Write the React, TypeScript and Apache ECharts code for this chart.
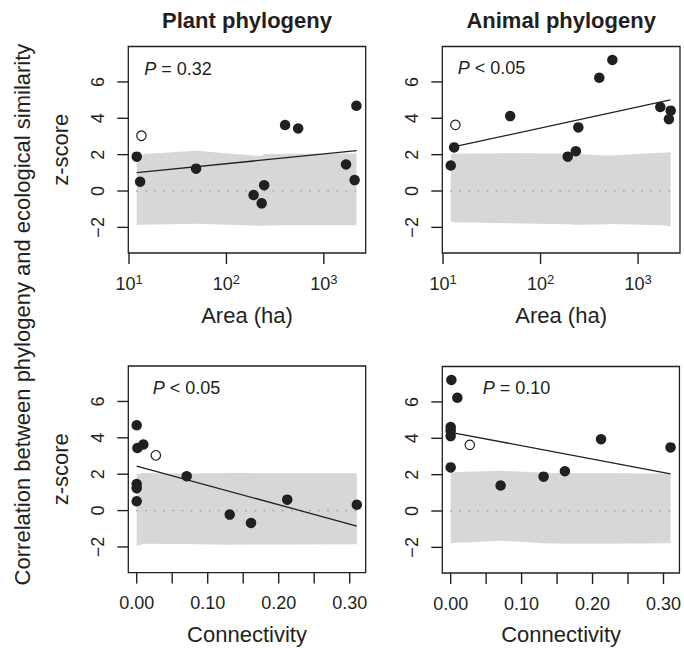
import React, { useEffect, useRef } from "react";
import * as echarts from "echarts";

// ---- data ----
// sites A..K : area (ha), connectivity, plant z-score, animal z-score
const SITE_AREA = [12.0, 13.0, 48.8, 190, 230, 244, 400, 545, 1690, 2160, 2070];
const SITE_CONNECTIVITY = [0.0704, 0.0, 0.0, 0.131, 0.161, 0.31, 0.0094, 0.001, 0.0, 0.0, 0.212];
const PLANT_Z = [1.89, 0.51, 1.23, -0.22, -0.68, 0.32, 3.63, 3.44, 1.46, 4.69, 0.6];
const ANIMAL_Z = [1.4, 2.4, 4.12, 1.89, 2.19, 3.5, 6.23, 7.21, 4.62, 4.42, 3.95];
// excluded site (open circle)
const OPEN_AREA = [13.4];
const OPEN_CONNECTIVITY = [0.027];
const OPEN_PLANT_Z = [3.04];
const OPEN_ANIMAL_Z = [3.64];

// regression lines (end points)
const PLANT_AREA_FIT_X = [12.0, 2170];
const PLANT_AREA_FIT_Z = [1.01, 2.22];
const ANIMAL_AREA_FIT_X = [13.1, 2140];
const ANIMAL_AREA_FIT_Z = [2.44, 5.01];
const CONN_FIT_X = [0, 0.31];
const PLANT_CONN_FIT_Z = [2.45, -0.85];
const ANIMAL_CONN_FIT_Z = [4.33, 2.04];

// null-model envelopes
const AREA_BAND_X = [12.0, 13.0, 48.8, 190, 230, 244, 400, 545, 1690, 2070, 2160];
const PLANT_AREA_BAND_UPPER = [2.0, 2.02, 2.22, 1.96, 1.93, 2.04, 2.05, 2.05, 2.06, 2.07, 2.07];
const PLANT_AREA_BAND_LOWER = [-1.87, -1.86, -1.8, -1.9, -1.92, -1.9, -1.89, -1.89, -1.88, -1.88, -1.88];
const ANIMAL_AREA_BAND_UPPER = [2.02, 2.05, 2.08, 2.06, 2.05, 2.04, 1.97, 1.96, 2.1, 2.12, 2.13];
const ANIMAL_AREA_BAND_LOWER = [-1.68, -1.72, -1.78, -1.83, -1.85, -1.85, -1.84, -1.82, -1.88, -1.92, -1.93];
const CONN_BAND_X = [0, 0.0094, 0.0704, 0.131, 0.161, 0.212, 0.31];
const PLANT_CONN_BAND_UPPER = [2.03, 2.06, 2.04, 2.07, 2.06, 2.05, 2.05];
const PLANT_CONN_BAND_LOWER = [-1.95, -1.83, -1.84, -1.88, -1.87, -1.86, -1.85];
const ANIMAL_CONN_BAND_UPPER = [2.12, 2.14, 2.22, 2.1, 2.08, 2.08, 2.07];
const ANIMAL_CONN_BAND_LOWER = [-1.78, -1.74, -1.63, -1.78, -1.8, -1.8, -1.78];

// ticks and texts
const Z_TICKS = [-2, 0, 2, 4, 6];
const AREA_TICKS = [10, 100, 1000];
const CONN_TICKS = [0, 0.05, 0.1, 0.15, 0.2, 0.25, 0.3];
const CONN_LABELS = [0, 0.1, 0.2, 0.3];
const P_TEXTS = ["= 0.32", "< 0.05", "< 0.05", "= 0.10"];
const COLUMN_TITLES = ["Plant phylogeny", "Animal phylogeny"];
const X_TITLES = ["Area (ha)", "Connectivity"];
const Y_TITLE = "z-score";
const OUTER_Y_TITLE = "Correlation between phylogeny and ecological similarity";

// ---- styling ----
const FONT = "'Liberation Sans', Arial, Helvetica, sans-serif";
const INK = "#231f20";
const BAND = "#d6d7d9";
const Y_MIN = -3.41;
const Y_MAX = 7.95;
const AREA_MIN = 9.83;
const AREA_MAX = 2690;
const CONN_MIN = -0.0118;
const CONN_MAX = 0.3225;
const TICK_LEN = 11;

const zip = (xs: number[], ys: number[]) => xs.map((x, i) => [x, ys[i]]);

const GRIDS = [
  { left: 128.3, top: 46.5, width: 237.4, height: 206.5 },
  { left: 442.3, top: 46.5, width: 237.7, height: 206.5 },
  { left: 128.3, top: 366, width: 237.4, height: 206.6 },
  { left: 442.3, top: 366.5, width: 237.7, height: 206.5 },
];

const PANELS = [
  {
    x: SITE_AREA, y: PLANT_Z, ox: OPEN_AREA, oy: OPEN_PLANT_Z,
    fx: PLANT_AREA_FIT_X, fy: PLANT_AREA_FIT_Z,
    bx: AREA_BAND_X, bu: PLANT_AREA_BAND_UPPER, bl: PLANT_AREA_BAND_LOWER,
    xTicks: AREA_TICKS, xMin: AREA_MIN,
  },
  {
    x: SITE_AREA, y: ANIMAL_Z, ox: OPEN_AREA, oy: OPEN_ANIMAL_Z,
    fx: ANIMAL_AREA_FIT_X, fy: ANIMAL_AREA_FIT_Z,
    bx: AREA_BAND_X, bu: ANIMAL_AREA_BAND_UPPER, bl: ANIMAL_AREA_BAND_LOWER,
    xTicks: AREA_TICKS, xMin: AREA_MIN,
  },
  {
    x: SITE_CONNECTIVITY, y: PLANT_Z, ox: OPEN_CONNECTIVITY, oy: OPEN_PLANT_Z,
    fx: CONN_FIT_X, fy: PLANT_CONN_FIT_Z,
    bx: CONN_BAND_X, bu: PLANT_CONN_BAND_UPPER, bl: PLANT_CONN_BAND_LOWER,
    xTicks: CONN_TICKS, xMin: CONN_MIN,
  },
  {
    x: SITE_CONNECTIVITY, y: ANIMAL_Z, ox: OPEN_CONNECTIVITY, oy: OPEN_ANIMAL_Z,
    fx: CONN_FIT_X, fy: ANIMAL_CONN_FIT_Z,
    bx: CONN_BAND_X, bu: ANIMAL_CONN_BAND_UPPER, bl: ANIMAL_CONN_BAND_LOWER,
    xTicks: CONN_TICKS, xMin: CONN_MIN,
  },
];

function buildOption() {
  const xAxis = GRIDS.map((_, i) => {
    const isArea = i < 2;
    if (isArea) {
      return {
        type: "log", logBase: 10, gridIndex: i, min: AREA_MIN, max: AREA_MAX,
        axisLine: { show: false, onZero: false },
        splitLine: { show: false },
        axisTick: { show: false },
        axisLabel: {
          customValues: AREA_TICKS,
          margin: 19.5,
          formatter: (v: number) => `{b|10}{s|${Math.round(Math.log10(v))}}`,
          rich: {
            b: { fontSize: 18, lineHeight: 22, fontFamily: FONT, color: INK },
            s: { fontSize: 13, lineHeight: 13, fontFamily: FONT, color: INK, verticalAlign: "top" },
          },
        },
      };
    }
    return {
      type: "value", gridIndex: i, min: CONN_MIN, max: CONN_MAX,
      axisLine: { show: false, onZero: false },
      splitLine: { show: false },
      axisTick: { show: false },
      axisLabel: {
        customValues: CONN_LABELS,
        margin: 21.5,
        fontSize: 18, lineHeight: 18, fontFamily: FONT, color: INK,
        formatter: (v: number) => v.toFixed(2),
      },
    };
  });

  const yAxis = GRIDS.map((_, i) => ({
    type: "value", gridIndex: i, min: Y_MIN, max: Y_MAX,
    axisLine: { show: false, onZero: false },
    splitLine: { show: false },
    axisTick: { show: false },
    axisLabel: {
      customValues: Z_TICKS,
      rotate: 90,
      margin: 21,
      fontSize: 18, lineHeight: 18, fontFamily: FONT, color: INK,
      formatter: (v: number) => String(v).replace("-", "\u2212"),
    },
  }));

  const series: any[] = [];
  PANELS.forEach((p, i) => {
    series.push({
      type: "custom", xAxisIndex: i, yAxisIndex: i, z: 1,
      data: [[p.bx[0], 0]],
      renderItem: (_params: any, api: any) => {
        const top = p.bx.map((x, k) => api.coord([x, p.bu[k]]));
        const bottom = p.bx.map((x, k) => api.coord([x, p.bl[k]])).reverse();
        return { type: "polygon", shape: { points: top.concat(bottom) }, style: { fill: BAND } };
      },
    });
    series.push({
      type: "line", xAxisIndex: i, yAxisIndex: i, z: 2, symbol: "none",
      data: [[p.bx[0], 0], [p.bx[p.bx.length - 1], 0]],
      lineStyle: { color: "#a9a9a9", width: 1.6, type: [0.5, 8.6], cap: "round" },
    });
    series.push({
      type: "line", xAxisIndex: i, yAxisIndex: i, z: 3, symbol: "none",
      data: zip(p.fx, p.fy),
      lineStyle: { color: INK, width: 1.3 },
    });
    series.push({
      type: "scatter", xAxisIndex: i, yAxisIndex: i, z: 4,
      symbolSize: 10.5, data: zip(p.x, p.y),
      itemStyle: { color: INK, opacity: 1 },
    });
    series.push({
      type: "scatter", xAxisIndex: i, yAxisIndex: i, z: 4,
      symbolSize: 9.5, data: zip(p.ox, p.oy),
      itemStyle: { color: "#ffffff", borderColor: INK, borderWidth: 1.2, opacity: 1 },
    });
  });

  return {
    animation: false,
    grid: GRIDS.map((g) => ({
      ...g, show: true, borderColor: INK, borderWidth: 1.3,
    })),
    xAxis,
    yAxis,
    series,
  };
}

function buildGraphic(chart: any) {
  const text = (x: number, y: number, t: string, extra: any = {}) => ({
    type: "text", x, y, z: 10,
    style: {
      text: t, fill: INK, fontFamily: FONT, fontSize: 22, fontWeight: "normal",
      align: "center", verticalAlign: "middle", ...extra,
    },
  });
  const centers = GRIDS.map((g) => ({ cx: g.left + g.width / 2, cy: g.top + g.height / 2 }));
  const P_POS = [
    [144.3, 68.8], [457.7, 68.2], [152.7, 387.8], [482.7, 387.8],
  ];

  // tick marks, positioned through each panel's axes
  const tickLines: any[] = [];
  PANELS.forEach((p, i) => {
    p.xTicks.forEach((v) => {
      const c = chart.convertToPixel({ gridIndex: i }, [v, Y_MIN]);
      if (!c || isNaN(c[0])) return;
      tickLines.push({
        type: "line", z: 10,
        shape: { x1: c[0], y1: c[1], x2: c[0], y2: c[1] + TICK_LEN },
        style: { stroke: INK, lineWidth: 1.4 },
      });
    });
    Z_TICKS.forEach((v) => {
      const c = chart.convertToPixel({ gridIndex: i }, [p.xMin, v]);
      if (!c || isNaN(c[1])) return;
      tickLines.push({
        type: "line", z: 10,
        shape: { x1: c[0] - TICK_LEN, y1: c[1], x2: c[0], y2: c[1] },
        style: { stroke: INK, lineWidth: 1.4 },
      });
    });
  });

  return [
    ...tickLines,
    text(centers[0].cx, 20.7, COLUMN_TITLES[0], { fontWeight: "bold" }),
    text(centers[1].cx, 20.7, COLUMN_TITLES[1], { fontWeight: "bold" }),
    text(centers[0].cx, 315, X_TITLES[0]),
    text(centers[1].cx, 315, X_TITLES[0]),
    text(centers[2].cx, 634, X_TITLES[1]),
    text(centers[3].cx, 634, X_TITLES[1]),
    { ...text(22, 314.5, OUTER_Y_TITLE), rotation: Math.PI / 2 },
    { ...text(60.7, centers[0].cy, Y_TITLE), rotation: Math.PI / 2 },
    { ...text(60.7, centers[2].cy, Y_TITLE), rotation: Math.PI / 2 },
    ...P_POS.map((pp, i) => ({
      type: "text", x: pp[0], y: pp[1], z: 10,
      style: {
        text: `{i|P} ${P_TEXTS[i]}`,
        fill: INK, fontFamily: FONT, fontSize: 18,
        align: "left", verticalAlign: "middle",
        rich: {
          i: { fontStyle: "italic", fontFamily: FONT, fontSize: 18, fill: INK },
        },
      },
    })),
  ];
}

export default function App() {
  const ref = useRef<HTMLDivElement>(null);
  useEffect(() => {
    if (!ref.current) return;
    const chart = echarts.init(ref.current, undefined, { renderer: "svg" });
    chart.setOption(buildOption() as any);
    chart.setOption({ graphic: buildGraphic(chart) } as any);
    return () => chart.dispose();
  }, []);
  return (
    <div
      ref={ref}
      style={{ position: "absolute", left: 0, top: 0, width: 684, height: 648 }}
    />
  );
}
